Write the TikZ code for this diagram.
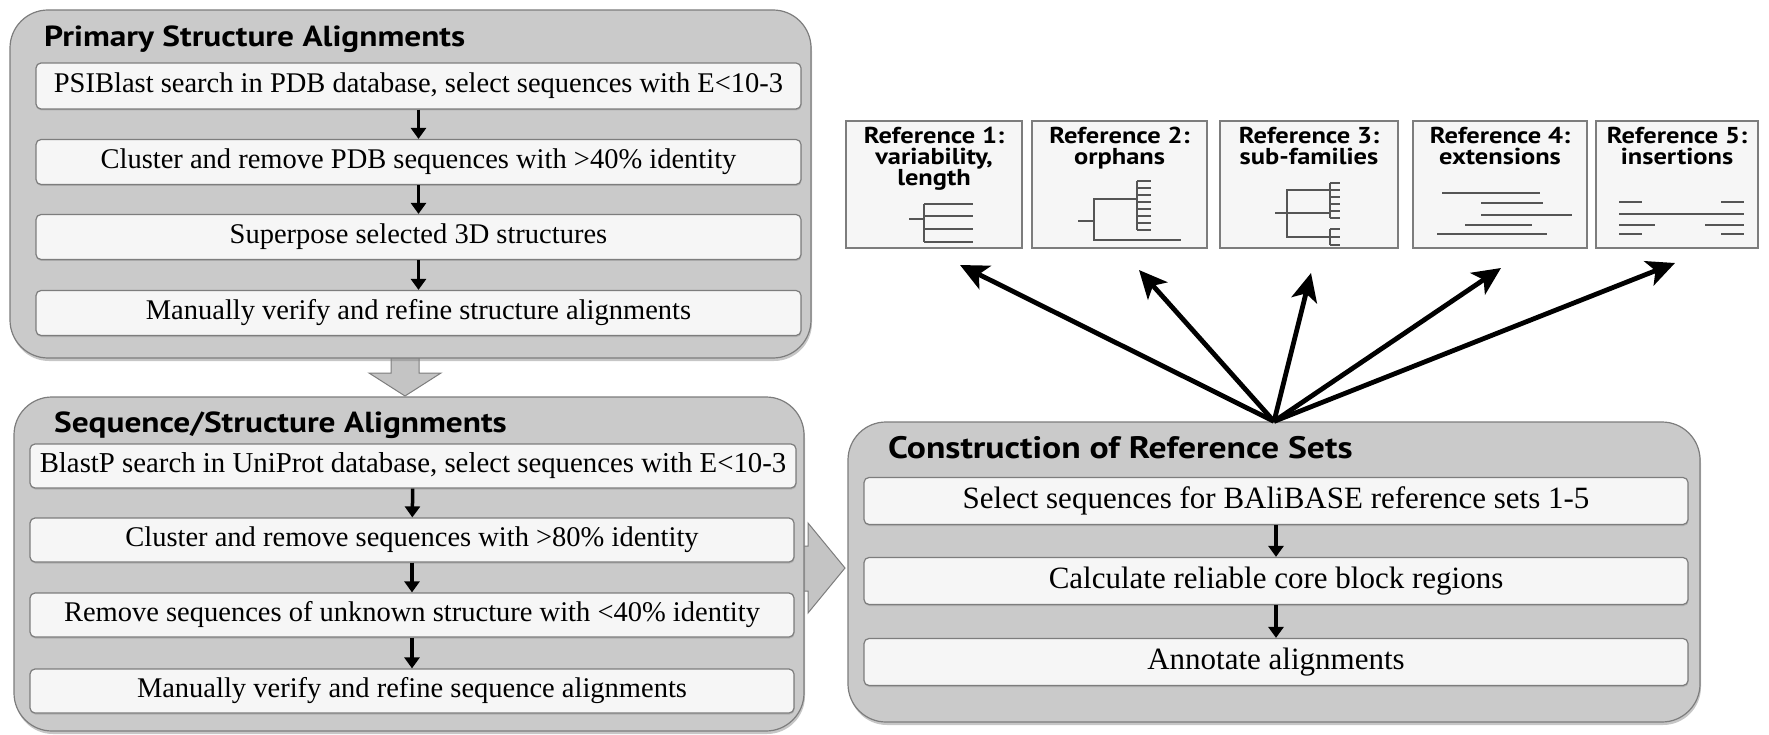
\documentclass[tikz,border=0pt]{standalone}
\usepackage{fontspec}
\setmainfont{Liberation Serif}
\setsansfont{PT Sans}
\newfontfamily\headfont{PT Sans}[FakeStretch=1.15]
\usepackage{xcolor}
\usepackage{tikz}
\usetikzlibrary{shapes,arrows,positioning,shadows,calc,arrows.meta}

\definecolor{panelgray}{RGB}{202,202,202}
\definecolor{boxwhite}{RGB}{246,246,246}
\definecolor{edgegray}{RGB}{125,125,125}
\definecolor{linegray}{RGB}{85,85,85}
\definecolor{arrowgray}{RGB}{196,196,196}

\begin{document}
\begin{tikzpicture}[x=1pt, y=-1pt,
        panel/.style={
                draw=edgegray, fill=panelgray,
                line width=1.2pt,
                rounded corners=38pt,
                inner sep=0pt,
                drop shadow={shadow xshift=1pt, shadow yshift=-3pt, opacity=0.45},
        },
        stepbox/.style={
                draw=edgegray, fill=boxwhite,
                line width=1.2pt,
                rounded corners=5pt,
                inner sep=0pt,
                font=\fontsize{28.5}{30}\selectfont,
                drop shadow={shadow xshift=0.5pt, shadow yshift=-1.5pt, opacity=0.35},
        },
        heading/.style={anchor=base west, inner sep=0pt, font=\headfont\bfseries\fontsize{29}{31}\selectfont},
        refbox/.style={draw=edgegray, fill=boxwhite, line width=1.5pt, inner sep=0pt,
                drop shadow={shadow xshift=1pt, shadow yshift=-1.5pt, opacity=0.35}},
        reftext/.style={anchor=north, align=center, inner sep=0pt, font=\headfont\bfseries\fontsize{23}{21}\selectfont},
        flow/.style={-{Triangle[width=15pt,length=11pt]}, line width=3.5pt, black},
        fan/.style={-{Stealth[width=26pt,length=28pt,inset=7pt]}, line width=4.8pt, black},
        icon/.style={line width=2.2pt, draw=linegray},
        blockarrow/.style={fill=arrowgray, draw=edgegray, line width=1pt},
    ]
    \useasboundingbox (0,0) rectangle (1769,735);

    % block arrows (behind the panels)
    \draw[blockarrow] (391,345) -- (419,345) -- (419,373) -- (441,373) -- (405,396) -- (369,373) -- (391,373) -- cycle;
    \draw[blockarrow] (790,546) -- (808,546) -- (808,523) -- (845,568) -- (808,613) -- (808,591) -- (790,591) -- cycle;

    % primary structure alignments
    \node[panel, minimum width=801pt, minimum height=348pt] (p1) at (410.5,184) {};
    \node[heading] (p1title) at (44,47) {Primary Structure Alignments};
    \node[stepbox, minimum width=765pt, minimum height=46pt] (a1) at (418.5,86) {PSIBlast search in PDB database, select sequences with E<10-3};
    \node[stepbox, minimum width=765pt, minimum height=45pt] (a2) at (418.5,162) {Cluster and remove PDB sequences with >40\% identity};
    \node[stepbox, minimum width=765pt, minimum height=45pt] (a3) at (418.5,237) {Superpose selected 3D structures};
    \node[stepbox, minimum width=765pt, minimum height=45pt] (a4) at (418.5,313) {Manually verify and refine structure alignments};

    % sequence/structure alignments
    \node[panel, minimum width=790pt, minimum height=334pt] (p2) at (409,564) {};
    \node[heading] (p2title) at (54,432) {Sequence/Structure Alignments};
    \node[stepbox, minimum width=766pt, minimum height=44pt, font=\fontsize{28.8}{31}\selectfont] (b1) at (413,466) {BlastP search in UniProt database, select sequences with E<10-3};
    \node[stepbox, minimum width=764pt, minimum height=44pt] (b2) at (412,540) {Cluster and remove sequences with >80\% identity};
    \node[stepbox, minimum width=764pt, minimum height=44pt] (b3) at (412,615) {Remove sequences of unknown structure with <40\% identity};
    \node[stepbox, minimum width=764pt, minimum height=44pt] (b4) at (412,691) {Manually verify and refine sequence alignments};

    % construction of reference sets
    \node[panel, minimum width=852pt, minimum height=300pt] (p3) at (1274,572) {};
    \node[heading, font=\headfont\bfseries\fontsize{31}{33}\selectfont] (p3title) at (888,458) {Construction of Reference Sets};
    \node[stepbox, minimum width=824pt, minimum height=47pt, font=\fontsize{31}{33}\selectfont] (c1) at (1276,501) {Select sequences for BAliBASE reference sets 1-5};
    \node[stepbox, minimum width=824pt, minimum height=47pt, font=\fontsize{31}{33}\selectfont] (c2) at (1276,581) {Calculate reliable core block regions};
    \node[stepbox, minimum width=824pt, minimum height=47pt, font=\fontsize{31}{33}\selectfont] (c3) at (1276,662) {Annotate alignments};

    \foreach \u/\v in {a1/a2, a2/a3, a3/a4, b1/b2, b2/b3, b3/b4, c1/c2, c2/c3}
        \draw[flow] (\u) -- (\v);

    % reference sets
    \node[refbox, minimum width=176pt, minimum height=127pt] (r1) at (934,184.5) {};
    \node[refbox, minimum width=175pt, minimum height=127pt] (r2) at (1119.5,184.5) {};
    \node[refbox, minimum width=178pt, minimum height=127pt] (r3) at (1309,184.5) {};
    \node[refbox, minimum width=174pt, minimum height=127pt] (r4) at (1500,184.5) {};
    \node[refbox, minimum width=162pt, minimum height=127pt] (r5) at (1677,184.5) {};
    \node[reftext] (r1text) at (934,127) {Reference 1:\\variability,\\length};
    \node[reftext] (r2text) at (1119.5,127) {Reference 2:\\orphans};
    \node[reftext] (r3text) at (1309,127) {Reference 3:\\sub-families};
    \node[reftext] (r4text) at (1500,127) {Reference 4:\\extensions};
    \node[reftext] (r5text) at (1677,127) {Reference 5:\\insertions};

    % icons
    \draw[icon] (909,219) -- (924,219);
    \draw[icon] (924,204) -- (924,242);
    \foreach \y in {204,216,229,242}
        \draw[icon] (924,\y) -- (973,\y);

    \draw[icon] (1078,221) -- (1094,221);
    \draw[icon] (1137,199) -- (1094,199) -- (1094,240) -- (1181,240);
    \draw[icon] (1137,181) -- (1137,230);
    \foreach \y in {181,188,...,230}
        \draw[icon] (1137,\y) -- (1151,\y);

    \draw[icon] (1275,213) -- (1330,213);
    \draw[icon] (1330,190) -- (1287,190) -- (1287,237) -- (1330,237);
    \draw[icon] (1330,183) -- (1330,218);
    \draw[icon] (1330,229) -- (1330,245);
    \foreach \y in {183,190,...,218,229,237,245}
        \draw[icon] (1330,\y) -- (1340,\y);

    \draw[icon] (1442,193) -- (1540,193);
    \draw[icon] (1481,203) -- (1543,203);
    \draw[icon] (1481,215) -- (1572,215);
    \draw[icon] (1465,225) -- (1532,225);
    \draw[icon] (1437,234) -- (1547,234);

    \draw[icon] (1619,214) -- (1744,214);
    \foreach \y in {202,234}{
        \draw[icon] (1619,\y) -- (1642,\y);
        \draw[icon] (1721,\y) -- (1744,\y);
    }
    \draw[icon] (1619,225) -- (1655,225);
    \draw[icon] (1705,225) -- (1744,225);

    % arrows to the reference sets
    \coordinate (tip1) at (960,265);
    \coordinate (tip2) at (1139,270);
    \coordinate (tip3) at (1311,273);
    \coordinate (tip4) at (1501,268);
    \coordinate (tip5) at (1675,263);
    \foreach \t in {tip1,tip2,tip3,tip4,tip5}
        \draw[fan] (p3.north) -- (\t);
\end{tikzpicture}
\end{document}
